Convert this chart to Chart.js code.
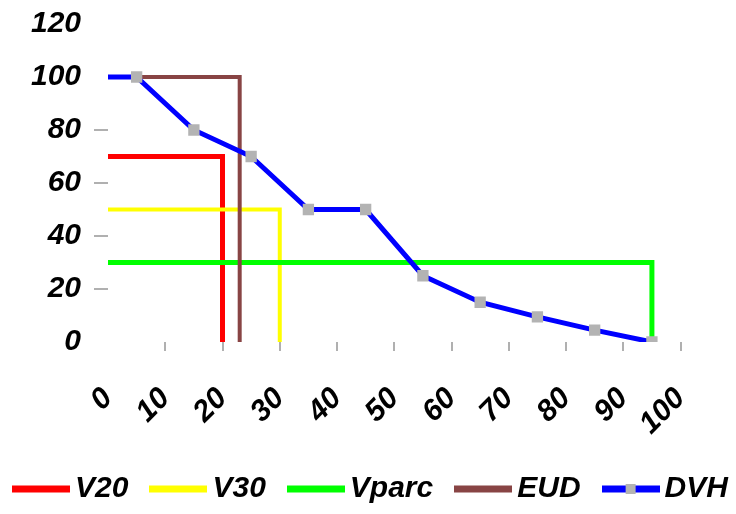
<!DOCTYPE html>
<html>
<head>
<meta charset="utf-8">
<script src="https://cdn.jsdelivr.net/npm/chart.js@4.4.1/dist/chart.umd.min.js"></script>
<style>
  html, body { margin: 0; padding: 0; background: #fff; }
  #dvhChart { display: block; }
</style>
</head>
<body>
<canvas id="dvhChart" width="736" height="514"></canvas>
<script>
// Dose (x, %) and volume (y, %) values
const dvhDose = [0, 5, 15, 25, 35, 45, 55, 65, 75, 85, 95]
const dvhVolume = [100, 100, 80, 70, 50, 50, 25, 15, 9.5, 4.5, 0]

const v20Dose = [0, 20, 20]
const v20Volume = [70, 70, 0]

const v30Dose = [0, 30, 30]
const v30Volume = [50, 50, 0]

const vparcDose = [0, 95, 95]
const vparcVolume = [30, 30, 0]

const eudDose = [0, 23, 23]
const eudVolume = [100, 100, 0]

const seriesNames = ["V20", "V30", "Vparc", "EUD", "DVH"]
const seriesColors = ["#ff0000", "#ffff00", "#00ff00", "#884444", "#0000ff"]
const markerColor = "#b3b3b3"

const xTicks = [0, 10, 20, 30, 40, 50, 60, 70, 80, 90, 100]
const yTicks = [0, 20, 40, 60, 80, 100, 120]

function toPoints(xs, ys) {
  return xs.map((x, i) => ({ x: x, y: ys[i] }))
}

// line swatch (with a marker for DVH) used as the legend symbol
function legendSwatch(color, withMarker) {
  const c = document.createElement("canvas")
  c.width = 58
  c.height = 12
  const g = c.getContext("2d")
  g.fillStyle = color
  g.fillRect(0, 2.5, 58, 7)
  if (withMarker) {
    g.fillStyle = markerColor
    g.fillRect(24, 1, 10, 10)
  }
  return c
}

const tickFont = { family: "'Liberation Sans', Arial, sans-serif", size: 30, weight: "bold", style: "italic" }

const lineSeries = [
  [v20Dose, v20Volume],
  [v30Dose, v30Volume],
  [vparcDose, vparcVolume],
  [eudDose, eudVolume],
]

const datasets = lineSeries.map((s, i) => ({
  label: seriesNames[i],
  data: toPoints(s[0], s[1]),
  borderColor: seriesColors[i],
  backgroundColor: seriesColors[i],
  borderWidth: i === 1 || i === 3 ? 4 : 5,
  pointRadius: 0,
  tension: 0,
  order: 5 - i,
}))

datasets.push({
  label: seriesNames[4],
  data: toPoints(dvhDose, dvhVolume),
  borderColor: seriesColors[4],
  backgroundColor: seriesColors[4],
  borderWidth: 5,
  tension: 0,
  pointStyle: "rect",
  pointRadius: dvhDose.map((d, i) => (i === 0 ? 0 : 8)),
  pointBackgroundColor: markerColor,
  pointBorderWidth: 0,
  order: 0,
})

new Chart(document.getElementById("dvhChart"), {
  type: "line",
  data: { datasets: datasets },
  options: {
    responsive: false,
    animation: false,
    // negative side padding so the one-row legend gets the full width
    layout: { padding: { top: 24, right: -27, bottom: 0, left: -13 } },
    plugins: {
      tooltip: { enabled: false },
      legend: {
        position: "bottom",
        labels: {
          usePointStyle: true,
          pointStyleWidth: 38,
          padding: 31,
          color: "#000",
          font: tickFont,
          generateLabels: (chart) =>
            chart.data.datasets.map((ds, i) => ({
              text: ds.label,
              pointStyle: legendSwatch(seriesColors[i], i === 4),
              fillStyle: seriesColors[i],
              strokeStyle: seriesColors[i],
              lineWidth: 0,
              hidden: false,
              datasetIndex: i,
            })),
        },
      },
    },
    scales: {
      x: {
        type: "linear",
        min: 0,
        max: 100,
        afterBuildTicks: (scale) => {
          scale.ticks = xTicks.map((v) => ({ value: v }))
        },
        afterFit: (scale) => {
          scale.height = 101
        },
        border: { display: false },
        grid: {
          drawOnChartArea: false,
          tickLength: 9,
          lineWidth: 2,
          color: (ctx) => (ctx.tick && ctx.tick.value === 0 ? "rgba(0,0,0,0)" : "#b0b0b0"),
        },
        ticks: {
          autoSkip: false,
          minRotation: 45,
          maxRotation: 45,
          padding: 30,
          color: "#000",
          font: tickFont,
        },
      },
      y: {
        min: 0,
        max: 120,
        afterBuildTicks: (scale) => {
          scale.ticks = yTicks.map((v) => ({ value: v }))
        },
        afterFit: (scale) => {
          scale.width = 121
          scale.paddingTop = 0
          scale.paddingBottom = 0
        },
        border: { display: false },
        grid: {
          drawOnChartArea: false,
          tickLength: 14,
          lineWidth: 2,
          color: (ctx) => {
            const v = ctx.tick ? ctx.tick.value : 0
            return v > 0 && v < 100 ? "#b0b0b0" : "rgba(0,0,0,0)"
          },
        },
        ticks: {
          padding: 13,
          color: "#000",
          font: tickFont,
        },
      },
      // empty right-hand box: keeps the white margin right of the plot
      rightGap: {
        type: "linear",
        position: "right",
        afterFit: (scale) => {
          scale.width = 82
          scale.paddingTop = 0
          scale.paddingBottom = 0
        },
        border: { display: false },
        grid: { display: false },
        ticks: { display: false },
      },
    },
  },
})
</script>
</body>
</html>
